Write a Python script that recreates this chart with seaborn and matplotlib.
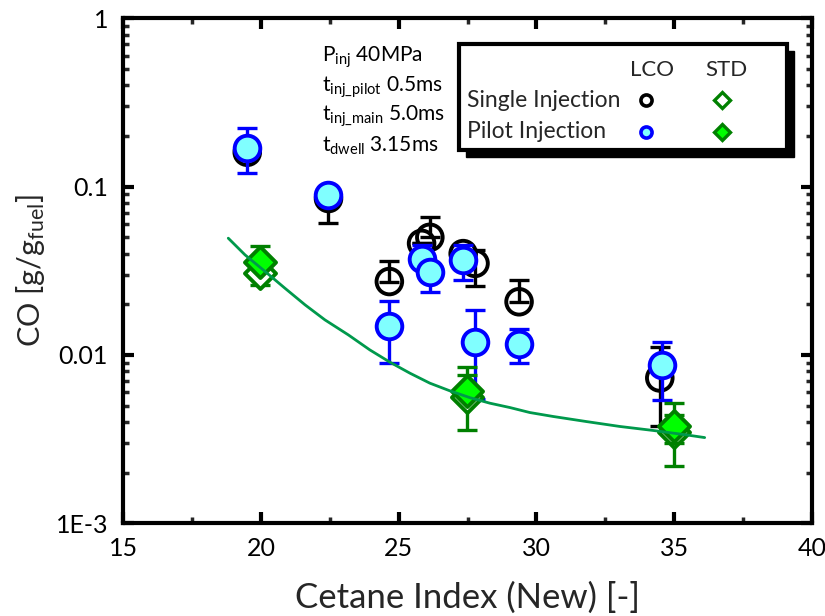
import numpy as np
import pandas as pd
import matplotlib
matplotlib.use("Agg")
import matplotlib.pyplot as plt
import seaborn as sns
from matplotlib.patches import Rectangle
from matplotlib.ticker import FixedLocator, NullFormatter, MultipleLocator, LogLocator

# ---- data -------------------------------------------------------------
# LCO, single injection (open black circles)
single_lco_ci = [19.50, 22.45, 24.66, 25.83, 26.13, 27.34, 27.77, 29.37, 34.48]
single_lco_co = [0.160, 0.085, 0.0273, 0.046, 0.050, 0.040, 0.035, 0.0207, 0.0073]
single_lco_lo = [0.160, 0.061, 0.0273, 0.046, 0.050, 0.040, 0.0258, 0.0207, 0.0038]
single_lco_hi = [0.160, 0.085, 0.036, 0.046, 0.066, 0.040, 0.042, 0.028, 0.0112]

# LCO, pilot injection (blue circles)
pilot_lco_ci = [19.48, 22.44, 24.66, 25.83, 26.13, 27.34, 27.77, 29.37, 34.55]
pilot_lco_co = [0.170, 0.089, 0.0149, 0.0370, 0.0312, 0.0366, 0.0120, 0.0116, 0.0087]
pilot_lco_lo = [0.120, 0.089, 0.0089, 0.0370, 0.0235, 0.028, 0.0055, 0.0089, 0.0054]
pilot_lco_hi = [0.222, 0.098, 0.021, 0.045, 0.0312, 0.045, 0.0185, 0.0143, 0.0119]

# STD fuel, single injection (open diamonds)
single_std_ci = [19.97, 27.47, 35.00]
single_std_co = [0.0306, 0.0056, 0.0035]
single_std_lo = [0.026, 0.0036, 0.0022]
single_std_hi = [0.0306, 0.0076, 0.0044]

# STD fuel, pilot injection (filled diamonds)
pilot_std_ci = [19.97, 27.47, 35.00]
pilot_std_co = [0.0359, 0.0061, 0.0038]
pilot_std_lo = [0.0359, 0.0061, 0.0030]
pilot_std_hi = [0.0443, 0.0085, 0.0052]

# STD trend curve
trend_ci = [18.81, 19.42, 20.15, 20.87, 21.60, 22.32, 23.17, 23.95, 24.68, 25.41,
            26.13, 26.86, 27.58, 28.31, 29.04, 29.76, 30.61, 31.82, 33.03, 34.24,
            35.45, 36.11]
trend_co = [0.0494, 0.0393, 0.0313, 0.0249, 0.01984, 0.01616, 0.01316, 0.01072,
            0.00906, 0.00779, 0.00680, 0.00612, 0.00558, 0.00517, 0.00487, 0.00455,
            0.00431, 0.00402, 0.00376, 0.00356, 0.00335, 0.00323]

x_ticks = [15, 20, 25, 30, 35, 40]
y_ticks = [1e-3, 1e-2, 1e-1, 1]
y_tick_labels = ["1E-3", "0.01", "0.1", "1"]

# ---- style ------------------------------------------------------------
sns.set_theme(style="ticks")
plt.rcParams["font.family"] = ["Lato", "DejaVu Sans"]
plt.rcParams["mathtext.fontset"] = "custom"
plt.rcParams["mathtext.rm"] = "Lato"
plt.rcParams["mathtext.it"] = "Lato"

fig = plt.figure(figsize=(8.25, 6.16), dpi=100)
ax = fig.add_axes([0.1495, 0.1505, 0.8345, 0.8198])


def frame(ci, co, lo, hi, name):
    d = pd.DataFrame({"ci": ci, "co": co, "lo": lo, "hi": hi})
    d["err_lo"] = d["co"] - d["lo"]
    d["err_hi"] = d["hi"] - d["co"]
    d["group"] = name
    return d


series = [
    (frame(single_lco_ci, single_lco_co, single_lco_lo, single_lco_hi, "single_lco"),
     dict(ecolor="black", marker="o", face="none", edge="black", size=340, z=3)),
    (frame(pilot_lco_ci, pilot_lco_co, pilot_lco_lo, pilot_lco_hi, "pilot_lco"),
     dict(ecolor="#0000FF", marker="o", face="#80FFFF", edge="#0000FF", size=340, z=4)),
    (frame(single_std_ci, single_std_co, single_std_lo, single_std_hi, "single_std"),
     dict(ecolor="#008000", marker="D", face="white", edge="#008000", size=250, z=5)),
    (frame(pilot_std_ci, pilot_std_co, pilot_std_lo, pilot_std_hi, "pilot_std"),
     dict(ecolor="#008000", marker="D", face="#00FF00", edge="#008000", size=250, z=6)),
]

for d, st in series:
    ax.errorbar(d["ci"], d["co"], yerr=[d["err_lo"], d["err_hi"]], fmt="none",
                ecolor=st["ecolor"], elinewidth=2.4, capsize=7, capthick=2.4,
                zorder=st["z"])
    sns.scatterplot(data=d, x="ci", y="co", ax=ax, marker=st["marker"], s=st["size"],
                    facecolor=st["face"], edgecolor=st["edge"], linewidth=2.8,
                    zorder=st["z"] + 0.5, legend=False)

trend = pd.DataFrame({"ci": trend_ci, "co": trend_co})
sns.lineplot(data=trend, x="ci", y="co", ax=ax, sort=False, estimator=None,
             color="#00994C", linewidth=2.0, zorder=8)

# ---- axes -------------------------------------------------------------
ax.set_yscale("log")
ax.set_xlim(15, 40)
ax.set_ylim(1e-3, 1)
ax.xaxis.set_major_locator(FixedLocator(x_ticks))
ax.xaxis.set_minor_locator(MultipleLocator(2.5))
ax.yaxis.set_major_locator(FixedLocator(y_ticks))
ax.set_yticklabels(y_tick_labels)
ax.yaxis.set_minor_locator(LogLocator(base=10, subs=np.arange(2, 10)))
ax.yaxis.set_minor_formatter(NullFormatter())

for s in ax.spines.values():
    s.set_linewidth(3.0)
    s.set_color("black")
ax.tick_params(which="major", direction="in", length=8, width=3.0,
               top=True, right=True, labelsize=18, colors="black")
ax.tick_params(axis="y", which="major", pad=11)
ax.tick_params(axis="x", which="major", pad=10)
ax.tick_params(which="minor", direction="in", length=4, width=2.5,
               top=True, right=True)

ax.set_xlabel("Cetane Index (New) [-]", fontsize=25)
ax.set_ylabel(r"CO [g/g$_{\mathrm{fuel}}$]", fontsize=22)
ax.xaxis.label.set_va("center")
ax.yaxis.label.set_va("center")
ax.xaxis.set_label_coords(0.5, -0.148)
ax.yaxis.set_label_coords(-0.1355, 0.5)

# ---- condition notes ---------------------------------------------------
notes = [r"P$_{\mathrm{inj}}$ 40MPa",
         r"t$_{\mathrm{inj\_pilot}}$ 0.5ms",
         r"t$_{\mathrm{inj\_main}}$ 5.0ms",
         r"t$_{\mathrm{dwell}}$ 3.15ms"]
for txt, yy in zip(notes, [0.9234, 0.864, 0.8065, 0.747]):
    ax.text(0.288, yy, txt, transform=ax.transAxes, fontsize=15,
            ha="left", va="center", color="black")

# ---- legend box with drop shadow --------------------------------------
bx0, by0, bx1, by1 = 0.488, 0.7392, 0.9637, 0.9485
ax.add_patch(Rectangle((bx0 + 0.0102, by0 - 0.0139), bx1 - bx0, by1 - by0,
                       transform=ax.transAxes, facecolor="black",
                       edgecolor="black", zorder=10))
ax.add_patch(Rectangle((bx0, by0), bx1 - bx0, by1 - by0,
                       transform=ax.transAxes, facecolor="white",
                       edgecolor="black", linewidth=3.0, zorder=11))
ax.text(0.7676, 0.8976, "LCO", transform=ax.transAxes, fontsize=16,
        ha="center", va="center", zorder=12)
ax.text(0.8755, 0.8976, "STD", transform=ax.transAxes, fontsize=16,
        ha="center", va="center", zorder=12)
ax.text(0.4988, 0.8382, "Single Injection", transform=ax.transAxes,
        fontsize=16.5, ha="left", va="center", zorder=12)
ax.text(0.4988, 0.7754, "Pilot Injection", transform=ax.transAxes,
        fontsize=16.5, ha="left", va="center", zorder=12)
ax.plot([0.7593], [0.8382], transform=ax.transAxes, marker="o", ms=8,
        mfc="none", mec="black", mew=2.6, zorder=12)
ax.plot([0.7593], [0.7754], transform=ax.transAxes, marker="o", ms=8,
        mfc="#80FFFF", mec="#0000FF", mew=2.6, zorder=12)
ax.plot([0.8697], [0.8382], transform=ax.transAxes, marker="D", ms=8,
        mfc="white", mec="#008000", mew=2.4, zorder=12)
ax.plot([0.8697], [0.7754], transform=ax.transAxes, marker="D", ms=8,
        mfc="#00FF00", mec="#008000", mew=2.4, zorder=12)

fig.savefig("out.png", dpi=100, facecolor="white")
